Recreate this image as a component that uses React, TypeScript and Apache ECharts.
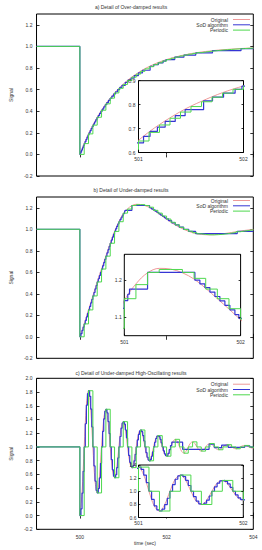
import { useEffect, useRef } from "react";
import * as echarts from "echarts";

// ---------------- data ----------------
const TITLES = [
  "a) Detail of Over-damped results",
  "b) Detail of Under-damped results",
  "c) Detail of Under-damped High-Oscillating results",
];
const SERIES_NAMES = ["Original", "SoD algorithm", "Periodic"];
const X_AXIS_NAME = "time (sec)";
const Y_AXIS_NAME = "Signal";

const X_MIN = 499;
const X_MAX = 504;
const X_TICKS = [500, 502, 504];
const Y_TICKS_AB = [-0.2, 0.0, 0.2, 0.4, 0.6, 0.8, 1.0, 1.2];
const Y_TICKS_C = [-0.2, 0.0, 0.2, 0.4, 0.6, 0.8, 1.0, 1.2, 1.4, 1.6, 1.8, 2.0];
const INSET_X_TICKS = [501, 502];
const INSET_A_Y_TICKS = [0.6, 0.7, 0.8, 0.9];
const INSET_B_Y_TICKS = [1.1, 1.2];
const INSET_C_Y_TICKS = [0.6, 0.8, 1.0, 1.2, 1.4];

const STEP_TIME = 500; // instant of the step
const PRE_STEP_LEVEL = 1; // signal level before the step
const ORIG_DT_AB = 0.1; // original curves a, b sampled every 0.1 s from 500
const ORIG_DT_C = 0.05; // original curve c sampled every 0.05 s from 500
const PERIODIC_DT = 0.1; // periodic sampler period
const SOD_C_DT = 0.025; // SoD c updates (500..502)

// a) over-damped
const ORIG_A = [
  0, 0.1, 0.19, 0.271, 0.344, 0.409, 0.468, 0.521, 0.569, 0.612,
  0.651, 0.686, 0.717, 0.745, 0.771, 0.794, 0.814, 0.833, 0.85, 0.865,
  0.878, 0.89, 0.901, 0.911, 0.92, 0.928, 0.935, 0.942, 0.948, 0.953,
  0.957, 0.962, 0.966, 0.969, 0.972, 0.975, 0.977, 0.98, 0.982, 0.984,
  0.985,
];
const PERIODIC_A = [
  0, 0.1, 0.19, 0.271, 0.344, 0.409, 0.468, 0.521, 0.569, 0.612,
  0.648, 0.684, 0.715, 0.743, 0.769, 0.792, 0.812, 0.831, 0.848, 0.864,
  0.878, 0.89, 0.901, 0.911, 0.92, 0.928, 0.935, 0.942, 0.948, 0.953,
  0.957, 0.962, 0.966, 0.969, 0.972, 0.975, 0.977, 0.98, 0.982, 0.984,
  0.985,
];
const SOD_A: [number, number][] = [
  [500, 0], [500.019, 0.02], [500.039, 0.04], [500.059, 0.06], [500.079, 0.08],
  [500.1, 0.1], [500.121, 0.12], [500.143, 0.14], [500.166, 0.16], [500.189, 0.18],
  [500.212, 0.2], [500.236, 0.22], [500.261, 0.24], [500.286, 0.26], [500.312, 0.28],
  [500.339, 0.3], [500.366, 0.32], [500.395, 0.34], [500.424, 0.36], [500.454, 0.38],
  [500.485, 0.4], [500.518, 0.42], [500.551, 0.44], [500.585, 0.46], [500.621, 0.48],
  [500.659, 0.5], [500.697, 0.52], [500.738, 0.54], [500.78, 0.56], [500.824, 0.58],
  [500.871, 0.6], [500.919, 0.62], [500.971, 0.64],
  [501.048, 0.667], [501.11, 0.688], [501.18, 0.706], [501.254, 0.73], [501.35, 0.754],
  [501.444, 0.779], [501.62, 0.816], [501.705, 0.831], [501.81, 0.848], [501.92, 0.864],
  [501.985, 0.877],
  [502.187, 0.9], [502.4, 0.92], [502.673, 0.94], [503.058, 0.96], [503.716, 0.98], [504, 0.98],
];

// b) under-damped
const ORIG_B = [
  0, 0.12, 0.25, 0.38, 0.51, 0.63, 0.75, 0.87, 0.98, 1.07,
  1.145, 1.19, 1.22, 1.232, 1.23, 1.22, 1.203, 1.178, 1.15, 1.122,
  1.093, 1.065, 1.04, 1.018, 0.998, 0.982, 0.968, 0.958, 0.952, 0.949,
  0.948, 0.95, 0.953, 0.958, 0.964, 0.97, 0.977, 0.983, 0.989, 0.994,
  0.998,
];
const PERIODIC_B = [
  0, 0.12, 0.25, 0.38, 0.51, 0.63, 0.75, 0.87, 0.98, 1.07,
  1.15, 1.188, 1.221, 1.229, 1.229, 1.221, 1.205, 1.176, 1.15, 1.123,
  1.095, 1.065, 1.04, 1.018, 0.998, 0.982, 0.968, 0.958, 0.952, 0.949,
  0.948, 0.95, 0.953, 0.958, 0.964, 0.97, 0.977, 0.983, 0.989, 0.994,
  0.998,
];
const SOD_B: [number, number][] = [
  [500, 0], [500.025, 0.03], [500.05, 0.06], [500.075, 0.09], [500.1, 0.12],
  [500.125, 0.152], [500.15, 0.185], [500.175, 0.217], [500.2, 0.25], [500.225, 0.282],
  [500.25, 0.315], [500.275, 0.347], [500.3, 0.38], [500.325, 0.412], [500.35, 0.445],
  [500.375, 0.477], [500.4, 0.51], [500.425, 0.54], [500.45, 0.57], [500.475, 0.6],
  [500.5, 0.63], [500.525, 0.66], [500.55, 0.69], [500.575, 0.72], [500.6, 0.75],
  [500.625, 0.78], [500.65, 0.81], [500.675, 0.84], [500.7, 0.87], [500.725, 0.899],
  [500.75, 0.927], [500.775, 0.954], [500.8, 0.98], [500.825, 1.004], [500.85, 1.027],
  [500.875, 1.049], [500.9, 1.07], [500.925, 1.089], [500.95, 1.107], [500.975, 1.124],
  [501.0, 1.145], [501.03, 1.162], [501.045, 1.176], [501.2, 1.221], [501.607, 1.2],
  [501.65, 1.19], [501.693, 1.18], [501.736, 1.168], [501.779, 1.156], [501.822, 1.144],
  [501.865, 1.132], [501.908, 1.12], [501.951, 1.107], [501.985, 1.097],
  [502.045, 1.08], [502.118, 1.06], [502.2, 1.04], [502.29, 1.02], [502.39, 1.0],
  [502.51, 0.98], [502.67, 0.96], [503.63, 0.98], [504, 0.98],
];

// c) under-damped, high-oscillating
const ORIG_C = [
  0.0, 0.328, 1.0, 1.609, 1.819, 1.551, 1.0, 0.502, 0.33, 0.549,
  1.0, 1.408, 1.549, 1.369, 1.0, 0.666, 0.551, 0.698, 1.0, 1.273,
  1.368, 1.247, 1.0, 0.776, 0.699, 0.797, 1.0, 1.183, 1.247, 1.166,
  1.0, 0.85, 0.798, 0.864, 1.0, 1.123, 1.165, 1.111, 1.0, 0.899,
  0.865, 0.909, 1.0, 1.082, 1.111, 1.075, 1.0, 0.933, 0.909, 0.939,
  1.0, 1.055, 1.074, 1.05, 1.0, 0.955, 0.939, 0.959, 1.0, 1.037,
  1.05, 1.034, 1.0, 0.97, 0.959, 0.973, 1.0, 1.025, 1.033, 1.022,
  1.0, 0.98, 0.973, 0.982, 1.0, 1.017, 1.022, 1.015, 1.0, 0.986,
  0.982,
];
const PERIODIC_C = [
  0.0, 1.0, 1.819, 1.0, 0.33, 1.0, 1.549, 1.0, 0.551, 1.0,
  1.368, 1.0, 0.699, 1.0, 1.247, 1.0, 0.798, 1.0, 1.165, 1.0,
  0.865, 1.0, 1.111, 1.0, 0.909, 1.0, 1.074, 1.0, 0.939, 1.0,
  1.05, 1.0, 0.959, 1.0, 1.033, 1.0, 0.973, 1.0, 1.022, 1.0,
  0.982,
];
const SOD_C_FINE = [
  0.0, 0.099, 0.328, 0.645, 1.0, 1.338, 1.609, 1.776, 1.819, 1.738,
  1.551, 1.291, 1.0, 0.723, 0.502, 0.365, 0.33, 0.396, 0.549, 0.762,
  1.0, 1.227, 1.408, 1.52, 1.549, 1.495, 1.369, 1.195, 1.0, 0.815,
  0.666, 0.574, 0.551, 0.595, 0.698, 0.84, 1.0, 1.152, 1.273, 1.349,
  1.368, 1.332, 1.247, 1.131, 1.0, 0.876, 0.776, 0.715, 0.699, 0.729,
  0.797, 0.893, 1.0, 1.102, 1.183, 1.234, 1.247, 1.222, 1.166, 1.088,
  1.0, 0.917, 0.85, 0.809, 0.798, 0.818, 0.864, 0.928, 1.0, 1.068,
  1.123, 1.157, 1.165, 1.149, 1.111, 1.059, 1.0, 0.944, 0.899, 0.872,
  0.865,
];
const SOD_C_TAIL: [number, number][] = [
  [502.03, 0.905], [502.06, 0.96], [502.09, 1.02], [502.12, 1.07], [502.37, 0.965],
  [502.98, 1.04], [503.1, 0.99], [503.27, 1.025], [503.42, 0.995], [503.8, 1.015],
  [503.92, 1.0], [504, 1.0],
];

// ---------------- styling ----------------
const FONT = "'Liberation Sans', Arial, Helvetica, sans-serif";
const TEXT_COLOR = "#333";
const COLORS = ["#ee9999", "#3535d4", "#4ed84e"];
const LINE_WIDTHS = [1, 1.2, 1];

type Pt = [number, number];

function onGrid(t0: number, dt: number, vals: number[]): Pt[] {
  return vals.map((v, i) => [Math.round((t0 + i * dt) * 10000) / 10000, v] as Pt);
}
function withPreStep(pts: Pt[]): Pt[] {
  return [[X_MIN, PRE_STEP_LEVEL], ...pts];
}

const MAIN_LEFT = 28.7;
const MAIN_WIDTH = 224.6;

const PANELS = [
  {
    title: TITLES[0],
    orig: onGrid(STEP_TIME, ORIG_DT_AB, ORIG_A),
    sod: withPreStep(SOD_A),
    periodic: withPreStep(onGrid(STEP_TIME, PERIODIC_DT, PERIODIC_A)),
    main: { top: 14, height: 162, yMin: -0.2, yMax: 1.3, yTicks: Y_TICKS_AB, xLabels: false },
    inset: { left: 138.5, top: 80.7, width: 105, height: 71.8, yMin: 0.6, yMax: 0.9, yTicks: INSET_A_Y_TICKS, yMargin: 3, xMargin: 3.5 },
    titleTop: 4.5,
    legendTop: 17,
  },
  {
    title: TITLES[1],
    orig: onGrid(STEP_TIME, ORIG_DT_AB, ORIG_B),
    sod: withPreStep(SOD_B),
    periodic: withPreStep(onGrid(STEP_TIME, PERIODIC_DT, PERIODIC_B)),
    main: { top: 197, height: 161.3, yMin: -0.2, yMax: 1.3, yTicks: Y_TICKS_AB, xLabels: false },
    inset: { left: 124.3, top: 254.3, width: 116.3, height: 81.4, yMin: 1.05, yMax: 1.27, yTicks: INSET_B_Y_TICKS, yMargin: 2.5, xMargin: 3.5 },
    titleTop: 187.5,
    legendTop: 198,
  },
  {
    title: TITLES[2],
    orig: onGrid(STEP_TIME, ORIG_DT_C, ORIG_C),
    sod: withPreStep([...onGrid(STEP_TIME, SOD_C_DT, SOD_C_FINE), ...SOD_C_TAIL]),
    periodic: withPreStep(onGrid(STEP_TIME, PERIODIC_DT, PERIODIC_C)),
    main: { top: 378.3, height: 151, yMin: -0.2, yMax: 2.0, yTicks: Y_TICKS_C, xLabels: true },
    inset: { left: 138.5, top: 465, width: 104.8, height: 52.5, yMin: 0.6, yMax: 1.4, yTicks: INSET_C_Y_TICKS, yMargin: 2, xMargin: 3 },
    titleTop: 370.8,
    legendTop: 381.7,
  },
];

const baseText = { fontSize: 5, color: TEXT_COLOR, fontFamily: FONT };
const fmt1 = (v: number) => v.toFixed(1);
const fmt0 = (v: number) => String(Math.round(v));

function buildOption() {
  const grids: any[] = [];
  const xAxes: any[] = [];
  const yAxes: any[] = [];
  const series: any[] = [];
  const titles: any[] = [];
  const legends: any[] = [];

  const addAxes = (
    g: number,
    xr: [number, number],
    yr: [number, number],
    xt: number[],
    yt: number[],
    showX: boolean,
    z: number,
    tickLen: number,
    xMargin: number,
    yMargin: number,
    isMain: boolean,
    withXName: boolean
  ) => {
    const tick = (vals: number[]) => ({
      show: true,
      inside: true,
      length: tickLen,
      customValues: vals,
      lineStyle: { color: "#000", width: 0.8 },
    });
    xAxes.push({
      type: "value", gridIndex: g, min: xr[0], max: xr[1], position: "bottom", z,
      axisLine: { show: false }, splitLine: { show: false },
      axisTick: tick(xt),
      axisLabel: { show: showX, customValues: xt, margin: xMargin, formatter: fmt0, ...baseText },
      name: withXName ? X_AXIS_NAME : "",
      nameLocation: "middle", nameGap: 11, nameTextStyle: { ...baseText },
    });
    xAxes.push({
      type: "value", gridIndex: g, min: xr[0], max: xr[1], position: "top", z,
      axisLine: { show: false }, splitLine: { show: false },
      axisTick: tick(xt), axisLabel: { show: false },
    });
    yAxes.push({
      type: "value", gridIndex: g, min: yr[0], max: yr[1], position: "left", z,
      axisLine: { show: false }, splitLine: { show: false },
      axisTick: tick(yt),
      axisLabel: { show: true, customValues: yt, margin: yMargin, formatter: fmt1, ...baseText },
      name: isMain ? Y_AXIS_NAME : "",
      nameLocation: "middle", nameGap: 16, nameRotate: 90, nameTextStyle: { ...baseText },
    });
    yAxes.push({
      type: "value", gridIndex: g, min: yr[0], max: yr[1], position: "right", z,
      axisLine: { show: false }, splitLine: { show: false },
      axisTick: tick(yt), axisLabel: { show: false },
    });
  };

  const addSeries = (g: number, p: any, inset: boolean) => {
    const z = inset ? 4 : 2;
    const common = (i: number) => ({
      type: "line",
      name: SERIES_NAMES[i],
      xAxisIndex: 2 * g,
      yAxisIndex: 2 * g,
      showSymbol: false,
      symbol: "none",
      clip: true,
      silent: true,
      z,
      lineStyle: { color: COLORS[i], width: LINE_WIDTHS[i] },
      itemStyle: { color: COLORS[i] },
    });
    series.push({ ...common(0), data: p.orig, smooth: 0.35 });
    series.push({ ...common(1), data: p.sod, step: "end" });
    series.push({ ...common(2), data: p.periodic, step: "end" });
  };

  PANELS.forEach((p, i) => {
    const gm = 2 * i;
    const gi = 2 * i + 1;
    grids.push({
      left: MAIN_LEFT, top: p.main.top, width: MAIN_WIDTH, height: p.main.height,
      show: true, borderColor: "#000", borderWidth: 1, backgroundColor: "transparent", z: 0,
    });
    grids.push({
      left: p.inset.left, top: p.inset.top, width: p.inset.width, height: p.inset.height,
      show: true, borderColor: "#000", borderWidth: 1, backgroundColor: "#fff", z: 3,
    });
    addAxes(gm, [X_MIN, X_MAX], [p.main.yMin, p.main.yMax], X_TICKS, p.main.yTicks,
      p.main.xLabels, 1, 3, 5.5, 4, true, p.main.xLabels);
    addAxes(gi, [INSET_X_TICKS[0], INSET_X_TICKS[1]], [p.inset.yMin, p.inset.yMax], INSET_X_TICKS,
      p.inset.yTicks, true, 5, 2, p.inset.xMargin, p.inset.yMargin, false, false);
    addSeries(gm, p, false);
    addSeries(gi, p, true);
    titles.push({
      text: p.title,
      left: "center",
      top: p.titleTop,
      padding: [0, 0, 0, 20],
      textStyle: { ...baseText, fontWeight: "normal" },
    });
    legends.push({
      show: true,
      orient: "vertical",
      right: 12,
      top: p.legendTop,
      align: "right",
      icon: "rect",
      itemWidth: 17,
      itemHeight: 1,
      itemGap: 0.3,
      padding: 0,
      selectedMode: false,
      data: SERIES_NAMES,
      textStyle: { ...baseText, lineHeight: 5 },
    });
  });

  return {
    animation: false,
    backgroundColor: "#fff",
    title: titles,
    legend: legends,
    grid: grids,
    xAxis: xAxes,
    yAxis: yAxes,
    series,
  };
}

export default function App() {
  const ref = useRef<HTMLDivElement>(null);
  useEffect(() => {
    if (!ref.current) return;
    const chart = echarts.init(ref.current, undefined, { renderer: "svg" });
    chart.setOption(buildOption() as any);
    return () => {
      chart.dispose();
    };
  }, []);
  return (
    <div
      ref={ref}
      style={{ position: "fixed", left: 0, top: 0, width: 262, height: 550, background: "#fff" }}
    />
  );
}
